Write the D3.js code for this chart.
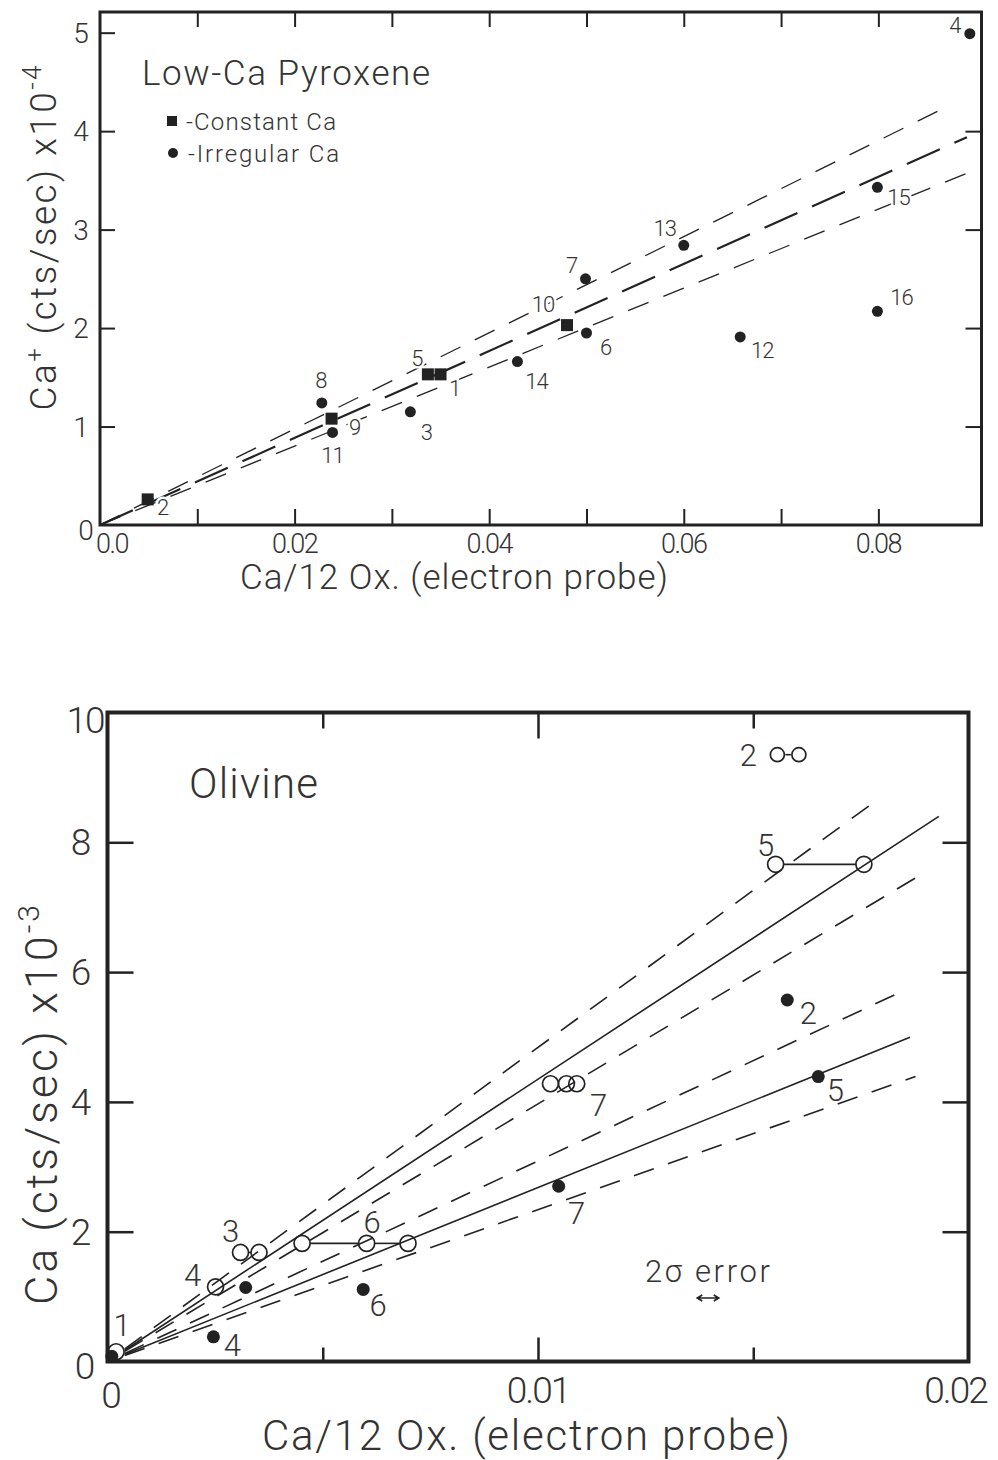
<!DOCTYPE html>
<html>
<head>
<meta charset="utf-8">
<script src="https://cdn.jsdelivr.net/npm/d3@7"></script>
<style>
  body { margin: 0; background: #fff; }
  svg text { font-family: Roboto, "Liberation Sans", sans-serif; font-weight: 300; fill: #333; }
  svg text.mark-label { paint-order: stroke; stroke: #fff; stroke-width: 5px; }
</style>
</head>
<body>
<svg id="fig" width="998" height="1460"></svg>
<script>
// ---------- Low-Ca pyroxene: Ca+ ion counts vs electron-probe Ca ----------
const pyxLabel = ["2", "8", "9", "11", "3", "5", "1", "10", "6", "14", "7", "13", "15", "4", "12", "16"];
const pyxKind  = ["sq", "ci", "sq", "ci", "ci", "sq", "sq", "sq", "ci", "ci", "ci", "ci", "ci", "ci", "ci", "ci"];
const pyxX = [0.0049, 0.0228, 0.0238, 0.0239, 0.0319, 0.0337, 0.0350, 0.0480, 0.0500, 0.0429, 0.0499, 0.0600, 0.0799, 0.0894, 0.0658, 0.0799];
const pyxY = [0.26, 1.24, 1.08, 0.94, 1.15, 1.53, 1.53, 2.03, 1.95, 1.66, 2.50, 2.84, 3.43, 4.99, 1.91, 2.17];

// fitted line (middle) and its error envelope: slope and x extent
const pyxLineName  = ["upper", "fit", "lower"];
const pyxLineSlope = [48.8, 44.2, 40.1];
const pyxLineXEnd  = [0.0862, 0.0891, 0.0897];

const pyxXTicks = [0, 0.01, 0.02, 0.03, 0.04, 0.05, 0.06, 0.07, 0.08];
const pyxXTickText = ["0.0", "", "0.02", "", "0.04", "", "0.06", "", "0.08"];
const pyxYTicks = [0, 1, 2, 3, 4, 5];
const pyxYTickText = ["0", "1", "2", "3", "4", "5"];

// ---------- Olivine: Ca counts vs electron-probe Ca ----------
const olvOpenLabel = ["1", "4", "3", "6", "7", "5", "2"];
const olvOpenY = [0.15, 1.15, 1.68, 1.82, 4.28, 7.66, 9.35];
const olvOpenX = [[0.0002], [0.00251], [0.00309, 0.00352], [0.00452, 0.00602, 0.00698],
                  [0.01029, 0.01066, 0.01090], [0.01552, 0.01757], [0.01556, 0.01606]];

const olvFillLabel = ["", "4", "", "6", "7", "2", "5"];
const olvFillX = [0.0001, 0.00246, 0.00321, 0.00594, 0.01048, 0.01579, 0.01651];
const olvFillY = [0.08, 0.38, 1.14, 1.11, 2.70, 5.57, 4.39];

const olvLineGroup = ["open", "open", "open", "fill", "fill", "fill"];
const olvLineRole  = ["upper", "fit", "lower", "upper", "fit", "lower"];
const olvLineSlope = [484, 435, 397, 309, 268, 234];
const olvLineXEnd  = [0.01794, 0.01931, 0.01887, 0.01834, 0.01864, 0.01877];
const olvLineXStart = 0.0004;

const olvErrorWidth = 0.0005;   // 2-sigma error in the probe value

const olvXTicks = [0, 0.01, 0.02];
const olvXTickText = ["0", "0.01", "0.02"];
const olvYTicks = [0, 2, 4, 6, 8, 10];
const olvYTickText = ["0", "2", "4", "6", "8", "10"];

// ---------- layout ----------
const INK = "#222";
const svg = d3.select("#fig");

// label placement around the marks (dx, dy of the label baseline centre)
const pyxLabelPos = {
  "2": [15, 16], "8": [-1, -15], "9": [23, 16], "11": [0, 31], "3": [16, 28], "5": [-11, -8],
  "1": [14, 22], "10": [-24, -13], "6": [19, 22], "14": [19, 27], "7": [-14, -6], "13": [-19, -9],
  "15": [21, 18], "4": [-15, -1], "12": [22, 21], "16": [24, -6]
};
const olvOpenLabelPos = {
  "1": [6, -16], "4": [-23, -1], "3": [-10, -10], "6": [70, -10], "7": [48, 32], "5": [-10, -8], "2": [-29, 11]
};
const olvFillLabelPos = {
  "4": [19, 19], "6": [15, 27], "7": [18, 38], "2": [21, 24], "5": [17, 24]
};

function ticks(g, axisFn, scale, values, size, transform, width) {
  const a = g.append("g").attr("transform", transform)
    .call(axisFn(scale).tickValues(values).tickSize(-size).tickFormat(""));
  a.select(".domain").remove();
  a.selectAll("line").attr("stroke", INK).attr("stroke-width", width);
}

// ================= top panel =================
{
  const x = d3.scaleLinear().domain([0, 0.0906]).range([100, 981.5]);
  const y = d3.scaleLinear().domain([0, 5.21]).range([525, 12]);
  const g = svg.append("g");

  // data lines
  pyxLineName.forEach((name, i) => {
    const pts = [[0, 0], [pyxLineXEnd[i], pyxLineSlope[i] * pyxLineXEnd[i]]];
    g.append("path")
      .attr("d", d3.line().x(d => x(d[0])).y(d => y(d[1]))(pts))
      .attr("fill", "none").attr("stroke", INK)
      .attr("stroke-width", name === "fit" ? 2.2 : 1.3)
      .attr("stroke-dasharray", name === "fit" ? "36,16" : "22,16");
  });

  // frame and ticks
  g.append("rect").attr("x", x(0)).attr("y", y(5.21))
    .attr("width", x(0.0906) - x(0)).attr("height", y(0) - y(5.21))
    .attr("fill", "none").attr("stroke", INK).attr("stroke-width", 3);
  const inner = pyxXTicks.slice(1);
  ticks(g, d3.axisBottom, x, inner, 16, `translate(0,${y(0)})`, 2);
  ticks(g, d3.axisTop, x, inner, 15, `translate(0,${y(5.21)})`, 2);
  ticks(g, d3.axisLeft, y, [1, 2, 3, 4, 5], 15, `translate(${x(0)},0)`, 2);
  ticks(g, d3.axisRight, y, [1, 2, 3, 4], 16, `translate(${x(0.0906)},0)`, 2);

  // tick labels
  g.selectAll(".xl").data(pyxXTicks.map((v, i) => [v, pyxXTickText[i]]).filter(d => d[1]))
    .join("text")
    .attr("x", d => d[0] === 0 ? x(0) - 4 : x(d[0]))
    .attr("y", 553)
    .attr("text-anchor", d => d[0] === 0 ? "start" : "middle")
    .attr("font-size", 27).attr("letter-spacing", -1.5)
    .text(d => d[1]);
  g.selectAll(".yl").data(pyxYTicks.map((v, i) => [v, pyxYTickText[i]]))
    .join("text")
    .attr("x", d => d[0] === 0 ? 86 : 81)
    .attr("y", d => y(d[0]) + (d[0] === 0 ? 15 : 10))
    .attr("text-anchor", "middle").attr("font-size", 28)
    .text(d => d[1]);

  // axis titles
  g.append("text").attr("x", 454).attr("y", 589).attr("text-anchor", "middle")
    .attr("font-size", 35).attr("textLength", 428).text("Ca/12 Ox. (electron probe)");
  const yt = g.append("text").attr("transform", "translate(56,238) rotate(-90)")
    .attr("text-anchor", "middle").attr("font-size", 37).attr("textLength", 345);
  yt.append("tspan").text("Ca");
  yt.append("tspan").attr("dy", -13).attr("font-size", 24).text("+");
  yt.append("tspan").attr("dy", 13).text(" (cts/sec)  x10");
  yt.append("tspan").attr("dy", -15).attr("font-size", 26).text("-4");

  // panel title and legend
  g.append("text").attr("x", 142).attr("y", 85).attr("font-size", 35)
    .attr("textLength", 288).text("Low-Ca Pyroxene");
  g.append("rect").attr("x", 167).attr("y", 116).attr("width", 10).attr("height", 10).attr("fill", INK);
  g.append("text").attr("x", 186).attr("y", 130).attr("font-size", 24).attr("textLength", 150)
    .text("-Constant  Ca");
  g.append("circle").attr("cx", 173).attr("cy", 153).attr("r", 5).attr("fill", INK);
  g.append("text").attr("x", 188).attr("y", 162).attr("font-size", 24).attr("textLength", 151)
    .text("-Irregular  Ca");

  // points
  const pts = pyxLabel.map((lab, i) => ({ lab, kind: pyxKind[i], x: pyxX[i], y: pyxY[i] }));
  g.selectAll(".pl").data(pts).join("text").attr("class", "mark-label")
    .attr("x", d => x(d.x) + pyxLabelPos[d.lab][0])
    .attr("y", d => y(d.y) + pyxLabelPos[d.lab][1])
    .attr("text-anchor", "middle").attr("font-size", 22).attr("letter-spacing", -1)
    .text(d => d.lab);
  g.selectAll(".sq").data(pts.filter(d => d.kind === "sq")).join("rect")
    .attr("x", d => x(d.x) - 6).attr("y", d => y(d.y) - 6)
    .attr("width", 12).attr("height", 12).attr("fill", INK);
  g.selectAll(".ci").data(pts.filter(d => d.kind === "ci")).join("circle")
    .attr("cx", d => x(d.x)).attr("cy", d => y(d.y)).attr("r", 5.5).attr("fill", INK);
}

// ================= bottom panel =================
{
  const x = d3.scaleLinear().domain([0, 0.02]).range([107.5, 968.5]);
  const y = d3.scaleLinear().domain([0, 10]).range([1361.5, 712.5]);
  const g = svg.append("g");

  // regression lines with their envelopes
  olvLineRole.forEach((role, i) => {
    const pts = [[olvLineXStart, olvLineSlope[i] * olvLineXStart], [olvLineXEnd[i], olvLineSlope[i] * olvLineXEnd[i]]];
    g.append("path")
      .attr("d", d3.line().x(d => x(d[0])).y(d => y(d[1]))(pts))
      .attr("fill", "none").attr("stroke", INK).attr("stroke-width", 1.6)
      .attr("stroke-dasharray", role === "fit" ? null : "21,15");
  });

  // frame and ticks
  g.append("rect").attr("x", x(0)).attr("y", y(10))
    .attr("width", x(0.02) - x(0)).attr("height", y(0) - y(10))
    .attr("fill", "none").attr("stroke", INK).attr("stroke-width", 4);
  ticks(g, d3.axisBottom, x, [0.005, 0.015], 14, `translate(0,${y(0)})`, 2.5);
  ticks(g, d3.axisBottom, x, [0.01], 24, `translate(0,${y(0)})`, 2.5);
  ticks(g, d3.axisTop, x, [0.005, 0.015], 16, `translate(0,${y(10)})`, 2.5);
  ticks(g, d3.axisTop, x, [0.01], 26, `translate(0,${y(10)})`, 2.5);
  ticks(g, d3.axisLeft, y, [2, 4, 6, 8], 26, `translate(${x(0)},0)`, 2.5);
  ticks(g, d3.axisRight, y, [2, 4, 6, 8], 26, `translate(${x(0.02)},0)`, 2.5);

  // tick labels
  const xOff = { "0": 3, "0.01": 0, "0.02": -13 };
  g.selectAll(".xl").data(olvXTicks.map((v, i) => [v, olvXTickText[i]]))
    .join("text")
    .attr("x", d => x(d[0]) + xOff[d[1]]).attr("y", d => d[0] === 0 ? 1408 : 1403)
    .attr("text-anchor", "middle").attr("font-size", 37).attr("letter-spacing", -2)
    .text(d => d[1]);
  g.selectAll(".yl").data(olvYTicks.map((v, i) => [v, olvYTickText[i]]))
    .join("text")
    .attr("x", d => d[0] === 10 ? 85 : d[0] === 0 ? 84 : 80)
    .attr("y", d => y(d[0]) + (d[0] === 10 ? 20 : d[0] === 0 ? 17 : 13))
    .attr("text-anchor", "middle").attr("font-size", 37).attr("letter-spacing", -2)
    .text(d => d[1]);

  // axis titles
  g.append("text").attr("x", 526).attr("y", 1450).attr("text-anchor", "middle")
    .attr("font-size", 42).attr("textLength", 528).text("Ca/12 Ox. (electron probe)");
  const yt = g.append("text").attr("transform", "translate(57,1105) rotate(-90)")
    .attr("text-anchor", "middle").attr("font-size", 45).attr("textLength", 400);
  yt.append("tspan").text("Ca (cts/sec)  x10");
  yt.append("tspan").attr("dy", -18).attr("font-size", 30).text("-3");

  g.append("text").attr("x", 189).attr("y", 798).attr("font-size", 42)
    .attr("textLength", 129).text("Olivine");

  // 2-sigma error scale
  g.append("text").attr("x", 645).attr("y", 1282)
    .attr("font-size", 31).attr("textLength", 125).text("2σ error");
  const ex = 708, ey = 1298, half = (x(olvErrorWidth) - x(0)) / 2;
  g.append("path")
    .attr("d", `M${ex - half},${ey}H${ex + half}M${ex - half + 5},${ey - 3}L${ex - half},${ey}L${ex - half + 5},${ey + 3}` +
               `M${ex + half - 5},${ey - 3}L${ex + half},${ey}L${ex + half - 5},${ey + 3}`)
    .attr("fill", "none").attr("stroke", INK).attr("stroke-width", 1.6);

  // open circles: connect repeated analyses of the same sample
  const R = 8;
  olvOpenLabel.forEach((lab, i) => {
    const xs = olvOpenX[i], yy = y(olvOpenY[i]);
    for (let k = 1; k < xs.length; k++) {
      const a = x(xs[k - 1]) + R, b = x(xs[k]) - R;
      if (b > a) g.append("line").attr("x1", a).attr("x2", b).attr("y1", yy).attr("y2", yy)
        .attr("stroke", INK).attr("stroke-width", 1.6);
    }
    g.selectAll(null).data(xs).join("circle")
      .attr("cx", d => x(d)).attr("cy", yy).attr("r", lab === "2" ? 7 : R)
      .attr("fill", "none").attr("stroke", INK).attr("stroke-width", 1.7);
    g.append("text")
      .attr("x", x(xs[0]) + olvOpenLabelPos[lab][0]).attr("y", yy + olvOpenLabelPos[lab][1])
      .attr("text-anchor", "middle").attr("font-size", 31).text(lab);
  });

  // filled circles
  const fp = olvFillLabel.map((lab, i) => ({ lab, x: olvFillX[i], y: olvFillY[i] }));
  g.selectAll(".fc").data(fp).join("circle")
    .attr("cx", d => x(d.x)).attr("cy", d => y(d.y)).attr("r", 6.5).attr("fill", INK);
  g.selectAll(".fl").data(fp.filter(d => d.lab)).join("text")
    .attr("x", d => x(d.x) + olvFillLabelPos[d.lab][0]).attr("y", d => y(d.y) + olvFillLabelPos[d.lab][1])
    .attr("text-anchor", "middle").attr("font-size", 31).text(d => d.lab);
}
</script>
</body>
</html>
